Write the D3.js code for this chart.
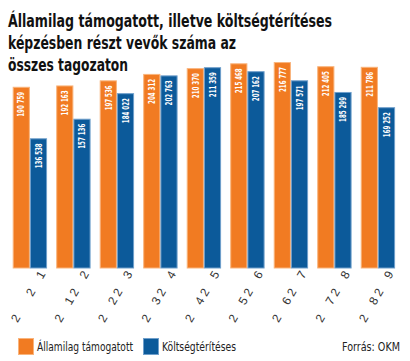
<!DOCTYPE html>
<html>
<head>
<meta charset="utf-8">
<script src="https://cdn.jsdelivr.net/npm/d3@7"></script>
<style>
  body { margin: 0; background: #fff; }
  svg { display: block; }
</style>
</head>
<body>
<div id="chart"></div>
<script>
// Államilag támogatott vs költségtérítéses hallgatók, tanévenként
const years = ["2000/2001", "2001/2002", "2002/2003", "2003/2004", "2004/2005",
               "2005/2006", "2006/2007", "2007/2008", "2008/2009"];
const seriesNames = ["Államilag támogatott", "Költségtérítéses"];
const allami = [190759, 192163, 197536, 204312, 210370, 215468, 216777, 212405, 211786];
const koltseg = [136538, 157136, 184022, 202763, 211359, 207162, 197571, 185299, 169252];
const titleLines = ["Államilag támogatott, illetve költségtérítéses",
                    "képzésben részt vevők száma az",
                    "összes tagozaton"];
const source = "Forrás: OKM";

const colors = ["#f17b22", "#0c5a9a"];
const edges = ["#f9b47c", "#6f9fcb"];

const width = 410, height = 361;
const baseY = 268;
const narrow = "'Liberation Sans Narrow', 'DejaVu Sans Condensed', 'Liberation Sans', sans-serif";

const data = years.map((y, i) => ({ year: y, values: [allami[i], koltseg[i]] }));

const svg = d3.select("#chart")
    .append("svg")
    .attr("width", width)
    .attr("height", height);

// Title
const titleLengths = [324, 228, 120];
svg.append("g").selectAll("text")
    .data(titleLines)
    .enter()
    .append("text")
    .attr("x", 8)
    .attr("y", (d, i) => 27 + i * 22)
    .attr("font-family", narrow)
    .attr("font-weight", "bold")
    .attr("font-size", "17px")
    .attr("fill", "#111")
    .attr("textLength", (d, i) => titleLengths[i])
    .attr("lengthAdjust", "spacingAndGlyphs")
    .text(d => d);

// Scales
const x0 = d3.scaleBand()
    .domain(years)
    .range([12.7, 395.1])
    .paddingInner(0.21)
    .paddingOuter(0);

const x1 = d3.scaleBand()
    .domain(seriesNames)
    .range([0, x0.bandwidth()])
    .padding(0);

const y = d3.scaleLinear()
    .domain([0, 220000])
    .range([baseY, 59]);

const fmt = v => d3.format(",")(v).replace(",", " ");

// Bars
const groups = svg.append("g").selectAll("g")
    .data(data)
    .enter()
    .append("g")
    .attr("transform", d => `translate(${x0(d.year)},0)`);

const cells = groups.selectAll("g")
    .data(d => d.values.map((v, k) => ({ name: seriesNames[k], k: k, value: v })))
    .enter()
    .append("g");

cells.append("rect")
    .attr("x", d => x1(d.name) + 0.5)
    .attr("y", d => y(d.value) + 0.5)
    .attr("width", x1.bandwidth() - 1)
    .attr("height", d => baseY - y(d.value) - 0.5)
    .attr("fill", d => colors[d.k])
    .attr("stroke", d => edges[d.k])
    .attr("stroke-width", 1);

cells.append("text")
    .attr("transform", d => `translate(${x1(d.name) + x1.bandwidth() / 2 + 3.2},${y(d.value) + 5}) rotate(-90)`)
    .attr("text-anchor", "end")
    .attr("font-family", narrow)
    .attr("font-weight", "bold")
    .attr("font-size", "9px")
    .attr("fill", "#fff")
    .attr("textLength", 25)
    .attr("lengthAdjust", "spacingAndGlyphs")
    .text(d => fmt(d.value));

// X axis (year labels, rotated)
const xAxis = svg.append("g")
    .attr("transform", `translate(0,${baseY})`)
    .call(d3.axisBottom(x0).tickSize(0).tickFormat(""));

xAxis.select(".domain").remove();

xAxis.selectAll(".tick").append("text")
    .attr("transform", "translate(16,6) rotate(-60)")
    .attr("text-anchor", "end")
    .attr("font-family", "'Liberation Sans', Arial, sans-serif")
    .attr("font-size", "12px")
    .attr("fill", "#333")
    .each(function (d) {
        const t = d3.select(this);
        d.split("").forEach(ch => {
            t.append("tspan")
                .attr("fill-opacity", (ch === "0" || ch === "/") ? 0 : 1)
                .text(ch);
        });
    });

// Legend
const legend = svg.append("g");
const legendX = [18, 143];
const legendLengths = [96, 74];
seriesNames.forEach((name, k) => {
    legend.append("rect")
        .attr("x", legendX[k] + 0.5)
        .attr("y", 338.5)
        .attr("width", 15)
        .attr("height", 16)
        .attr("fill", colors[k])
        .attr("stroke", edges[k]);
    legend.append("text")
        .attr("x", legendX[k] + 19)
        .attr("y", 351)
        .attr("font-family", narrow)
        .attr("font-size", "12px")
        .attr("fill", "#222")
        .attr("textLength", legendLengths[k])
        .attr("lengthAdjust", "spacingAndGlyphs")
        .text(name);
});

svg.append("text")
    .attr("x", 400)
    .attr("y", 351)
    .attr("text-anchor", "end")
    .attr("font-family", narrow)
    .attr("font-size", "12px")
    .attr("fill", "#222")
    .attr("textLength", 58)
    .attr("lengthAdjust", "spacingAndGlyphs")
    .text(source);
</script>
</body>
</html>
